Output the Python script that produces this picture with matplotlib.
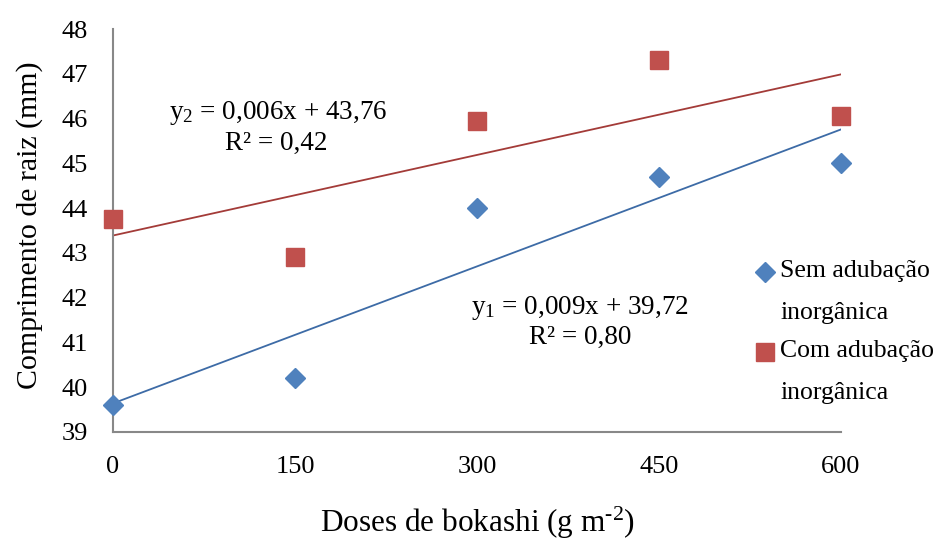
import numpy as np
import matplotlib
matplotlib.use('Agg')
import matplotlib.pyplot as plt
from matplotlib.lines import Line2D

plt.rcParams['font.family'] = ['Liberation Serif', 'DejaVu Serif']
plt.rcParams['mathtext.fontset'] = 'custom'
plt.rcParams['mathtext.rm'] = 'Liberation Serif'
plt.rcParams['mathtext.it'] = 'Liberation Serif:italic'

doses = [0, 150, 300, 450, 600]
sem_adub = [39.6, 40.2, 44.0, 44.7, 45.0]
com_adub = [43.75, 42.9, 45.95, 47.3, 46.05]
labels = ['Sem adubação\ninorgânica', 'Com adubação\ninorgânica']
eq1 = ['y$_1$ = 0,009x + 39,72', 'R² = 0,80']
eq2 = ['y$_2$ = 0,006x + 43,76', 'R² = 0,42']

blue, red = '#4F81BD', '#C0504D'
blue_line, red_line = '#3D6BA6', '#A33B38'

fig = plt.figure(figsize=(9.46, 5.4), dpi=100)
ax = fig.add_axes([0.1195, 0.2, 0.7695, 0.746])

x = np.array(doses, dtype=float)
for ys, col in [(sem_adub, blue_line), (com_adub, red_line)]:
    k, b = np.polyfit(x, ys, 1)
    ax.plot([0, 600], [b, b + k * 600], color=col, lw=1.3, zorder=2)

ax.plot(doses, sem_adub, 'D', ms=10, color=blue, mec=blue, clip_on=False, zorder=3)
ax.plot(doses, com_adub, 's', ms=13.5, color=red, mec=red, clip_on=False, zorder=3)

ax.set_xlim(0, 600)
ax.set_ylim(39, 48)
ax.set_xticks(doses)
ax.set_yticks(range(39, 49))
ax.tick_params(length=0, labelsize=19)
ax.tick_params(axis='x', pad=17)
ax.tick_params(axis='y', pad=18)
for s in ['top', 'right']:
    ax.spines[s].set_visible(False)
for s in ['left', 'bottom']:
    ax.spines[s].set_color('#888888')
    ax.spines[s].set_linewidth(1.5)

fs_eq = 19.5
fig.text(478 / 946, 1 - 523 / 540, 'Doses de bokashi (g m$^{\\text{-2}}$)', fontsize=22.5,
         ha='center', va='center')
fig.text(30 / 946, 1 - 225 / 540, 'Comprimento de raiz (mm)', fontsize=21.5,
         ha='center', va='center', rotation=90)

# equations
fig.text(278 / 946, 1 - 113 / 540, eq2[0], fontsize=fs_eq, ha='center', va='center')
fig.text(276 / 946, 1 - 143 / 540, eq2[1], fontsize=fs_eq, ha='center', va='center')
fig.text(580 / 946, 1 - 308 / 540, eq1[0], fontsize=fs_eq, ha='center', va='center')
fig.text(580 / 946, 1 - 337 / 540, eq1[1], fontsize=fs_eq, ha='center', va='center')

# legend
for i, (lab, col, mk, ms) in enumerate([(labels[0], blue, 'D', 10), (labels[1], red, 's', 12.5)]):
    yy = 1 - (272 + 80 * i) / 540
    fig.add_artist(Line2D([765 / 946], [yy], marker=mk, ms=ms, color=col, mec=col,
                          transform=fig.transFigure))
    fig.text(780 / 946, yy + 12 / 540, lab, fontsize=18.5, ha='left', va='top',
             linespacing=2.15)

fig.savefig('out.png', dpi=100)
